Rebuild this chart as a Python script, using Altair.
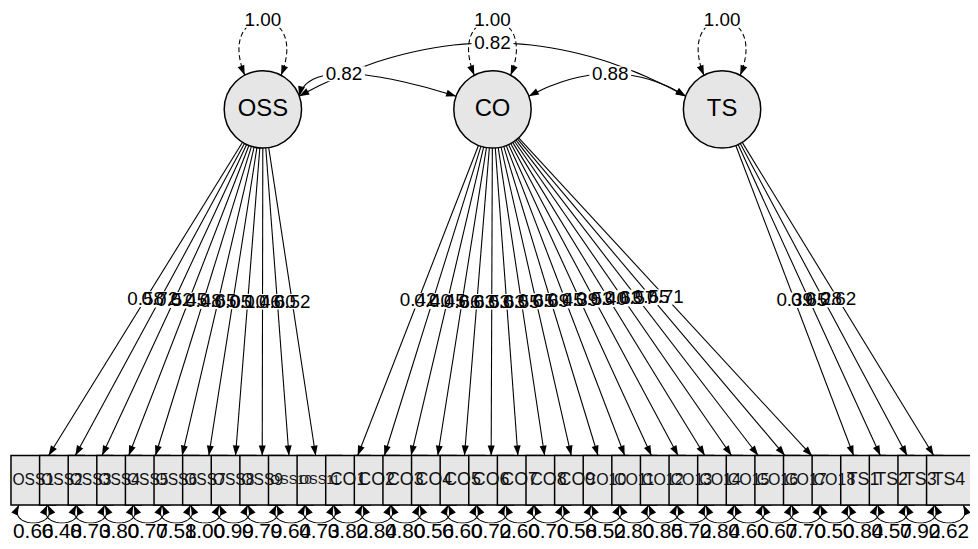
import math
import altair as alt
import pandas as pd

# ---------------- data ----------------
latent_names = ["OSS", "CO", "TS"]
latent_variances = [1.00, 1.00, 1.00]

oss_items = ["OSS1", "OSS2", "OSS3", "OSS4", "OSS5", "OSS6", "OSS7", "OSS8", "OSS9", "OSS10", "OSS11"]
co_items = ["CO1", "CO2", "CO3", "CO4", "CO5", "CO6", "CO7", "CO8", "CO9", "CO10",
            "CO11", "CO12", "CO13", "CO14", "CO15", "CO16", "CO17", "CO18"]
ts_items = ["TS1", "TS2", "TS3", "TS4"]

oss_loadings = [0.58, 0.72, 0.52, 0.45, 0.48, 0.65, 0.05, 0.10, 0.46, 0.60, 0.52]
co_loadings = [0.42, 0.40, 0.45, 0.66, 0.63, 0.53, 0.63, 0.55, 0.65, 0.69,
               0.45, 0.39, 0.53, 0.40, 0.63, 0.57, 0.55, 0.71]
ts_loadings = [0.39, 0.65, 0.28, 0.62]

oss_residuals = [0.66, 0.48, 0.73, 0.80, 0.77, 0.58, 1.00, 0.99, 0.79, 0.64, 0.73]
co_residuals = [0.82, 0.84, 0.80, 0.56, 0.60, 0.72, 0.60, 0.70, 0.58, 0.52,
                0.80, 0.85, 0.72, 0.84, 0.60, 0.67, 0.70, 0.50]
ts_residuals = [0.84, 0.57, 0.92, 0.62]

cov_from = ["OSS", "CO", "OSS"]
cov_to = ["CO", "TS", "TS"]
cov_values = [0.82, 0.88, 0.82]

# ---------------- layout (page pixel space) ----------------
X_MIN, X_MAX, Y_MIN, Y_MAX = 8, 978, 8, 549
LAT_X0, LAT_DX, LAT_Y, LAT_R = 265.0, 231.5, 108.0, 39.0
BOX_X0, BOX_DX, BOX_Y, BOX_W, BOX_H = 33.5, 28.85, 482.0, 45.0, 50.0
COV_ANGLE = 20.0
COV_BEND = [22.7, 22.7, 53.7]
COV_SKEW = [-68.0, 6.0, 0.0]
VAR_ANGLE = 28.0
VAR_CTRL = (30.0, 74.0)
RES_DEPTH = 24.0
RES_SPREAD = 12.0
FILL = "#e6e6e6"
FONT = "Liberation Sans"
FS_EDGE, FS_RES, FS_LAT = 19, 21, 24
BOX_FIT = 42.0
ARROW = "M0,0L-0.6,1.7L0.6,1.7Z"


def fmt(v):
    return f"{v:.2f}"


def ang(dx, dy):
    return math.degrees(math.atan2(dx, -dy)) % 360


def bez2(a, c, b, n=40):
    pts = []
    for j in range(n + 1):
        t = j / n
        u = 1 - t
        pts.append((u * u * a[0] + 2 * u * t * c[0] + t * t * b[0],
                    u * u * a[1] + 2 * u * t * c[1] + t * t * b[1]))
    return pts


def bez3(p0, p1, p2, p3, n=40):
    pts = []
    for j in range(n + 1):
        t = j / n
        u = 1 - t
        pts.append((u ** 3 * p0[0] + 3 * u * u * t * p1[0] + 3 * u * t * t * p2[0] + t ** 3 * p3[0],
                    u ** 3 * p0[1] + 3 * u * u * t * p1[1] + 3 * u * t * t * p2[1] + t ** 3 * p3[1]))
    return pts


def arial_em(s):
    w = {"O": 0.778, "S": 0.667, "C": 0.722, "T": 0.611}
    return sum(w.get(ch, 0.556) for ch in s)


items = oss_items + co_items + ts_items
item_lat = ["OSS"] * len(oss_items) + ["CO"] * len(co_items) + ["TS"] * len(ts_items)
loads = oss_loadings + co_loadings + ts_loadings
resids = oss_residuals + co_residuals + ts_residuals

lat_xy = {n: (LAT_X0 + LAT_DX * j, LAT_Y) for j, n in enumerate(latent_names)}
box_x = [BOX_X0 + BOX_DX * i for i in range(len(items))]

solid, dashed, arrows, labels = [], [], [], []


def add_path(store, gid, pts):
    for k, (x, y) in enumerate(pts):
        store.append({"gid": gid, "k": k, "x": x, "y": y})


def add_label(x, y, text, fs):
    w = arial_em(text) * fs
    h = fs * 0.8
    labels.append({"x": x, "y": y, "text": text, "fs": fs,
                   "x1": x - w / 2, "x2": x + w / 2, "y1": y - h / 2, "y2": y + h / 2})


# loadings
for i, (lat, lo) in enumerate(zip(item_lat, loads)):
    lx, ly = lat_xy[lat]
    bx, by = box_x[i], BOX_Y
    dx, dy = bx - lx, by - ly
    L = math.hypot(dx, dy)
    sx, sy = lx + dx / L * LAT_R, ly + dy / L * LAT_R
    s = min((BOX_W / 2) / abs(dx) if dx else 1e9, (BOX_H / 2) / abs(dy))
    ex, ey = bx - dx * s, by - dy * s
    add_path(solid, f"L{i}", [(sx, sy), (ex, ey)])
    arrows.append({"x": ex, "y": ey, "ang": ang(dx, dy)})
    add_label((sx + ex) / 2, (sy + ey) / 2, fmt(lo), FS_EDGE)

# covariances
a0 = math.radians(COV_ANGLE)
for j, (f, t, v) in enumerate(zip(cov_from, cov_to, cov_values)):
    ax, ay = lat_xy[f]
    bx, by = lat_xy[t]
    A = (ax + LAT_R * math.cos(a0), ay - LAT_R * math.sin(a0))
    B = (bx - LAT_R * math.cos(a0), by - LAT_R * math.sin(a0))
    C = ((A[0] + B[0]) / 2 + COV_SKEW[j], A[1] - 2 * COV_BEND[j])
    pts = bez2(A, C, B)
    add_path(solid, f"C{j}", pts)
    arrows.append({"x": A[0], "y": A[1], "ang": ang(A[0] - C[0], A[1] - C[1])})
    arrows.append({"x": B[0], "y": B[1], "ang": ang(B[0] - C[0], B[1] - C[1])})
    mx, my = pts[len(pts) // 2]
    add_label(mx, my, fmt(v), FS_EDGE)

# latent variances (dashed loops)
va = math.radians(VAR_ANGLE)
for j, (n, v) in enumerate(zip(latent_names, latent_variances)):
    cx, cy = lat_xy[n]
    P0 = (cx - LAT_R * math.sin(va), cy - LAT_R * math.cos(va))
    P3 = (cx + LAT_R * math.sin(va), cy - LAT_R * math.cos(va))
    P1 = (P0[0] - VAR_CTRL[0], P0[1] - VAR_CTRL[1])
    P2 = (P3[0] + VAR_CTRL[0], P3[1] - VAR_CTRL[1])
    add_path(dashed, f"V{j}", bez3(P0, P1, P2, P3))
    arrows.append({"x": P0[0], "y": P0[1], "ang": ang(P0[0] - P1[0], P0[1] - P1[1])})
    arrows.append({"x": P3[0], "y": P3[1], "ang": ang(P3[0] - P2[0], P3[1] - P2[1])})
    add_label(cx, P0[1] - 0.75 * VAR_CTRL[1], fmt(v), FS_EDGE)

# residuals
bottom = BOX_Y + BOX_H / 2
for i, r in enumerate(resids):
    c = box_x[i]
    P0 = (c - 14.5, bottom)
    P3 = (c + 14.5, bottom)
    P1 = (P0[0] - RES_SPREAD, bottom + RES_DEPTH)
    P2 = (P3[0] + RES_SPREAD, bottom + RES_DEPTH)
    add_path(solid, f"R{i}", bez3(P0, P1, P2, P3))
    arrows.append({"x": P0[0], "y": P0[1], "ang": ang(P0[0] - P1[0], P0[1] - P1[1])})
    arrows.append({"x": P3[0], "y": P3[1], "ang": ang(P3[0] - P2[0], P3[1] - P2[1])})
    add_label(c, 534.0, fmt(r), FS_RES)

boxes = pd.DataFrame({
    "cx": box_x,
    "x1": [c - BOX_W / 2 for c in box_x],
    "x2": [c + BOX_W / 2 for c in box_x],
    "y1": [BOX_Y - BOX_H / 2] * len(items),
    "y2": [BOX_Y + BOX_H / 2] * len(items),
    "cy": [BOX_Y] * len(items),
    "text": items,
    "fs": [min(18.0, BOX_FIT / arial_em(s)) for s in items],
})
circles = pd.DataFrame({"x": [lat_xy[n][0] for n in latent_names],
                        "y": [lat_xy[n][1] for n in latent_names],
                        "text": latent_names})

solid_df = pd.DataFrame(solid)
dashed_df = pd.DataFrame(dashed)
arrows_df = pd.DataFrame(arrows)
labels_df = pd.DataFrame(labels)

xs = alt.Scale(domain=[X_MIN, X_MAX], nice=False, zero=False)
ys = alt.Scale(domain=[Y_MIN, Y_MAX], nice=False, zero=False, reverse=True)


def X(f):
    return alt.X(f"{f}:Q", scale=xs, axis=None)


def Y(f):
    return alt.Y(f"{f}:Q", scale=ys, axis=None)


solid_layer = alt.Chart(solid_df).mark_line(color="black", strokeWidth=1.1).encode(
    x=X("x"), y=Y("y"), detail="gid:N", order="k:Q")
dashed_layer = alt.Chart(dashed_df).mark_line(color="black", strokeWidth=1.1, strokeDash=[5, 3]).encode(
    x=X("x"), y=Y("y"), detail="gid:N", order="k:Q")
box_layer = alt.Chart(boxes).mark_rect(fill=FILL, stroke="black", strokeWidth=1.5).encode(
    x=X("x1"), x2="x2:Q", y=Y("y1"), y2="y2:Q")
circle_layer = alt.Chart(circles).mark_point(
    shape="circle", filled=True, fill=FILL, stroke="black", strokeWidth=1.5, opacity=1,
    size=(2 * LAT_R) ** 2).encode(x=X("x"), y=Y("y"))
arrow_layer = alt.Chart(arrows_df).mark_point(
    shape=ARROW, filled=True, color="black", opacity=1, size=140, strokeWidth=0).encode(
    x=X("x"), y=Y("y"), angle=alt.Angle("ang:Q", scale=None))
box_text = alt.Chart(boxes).mark_text(font=FONT, color="#111111", align="center", baseline="middle").encode(
    x=X("cx"), y=Y("cy"), text="text:N", size=alt.Size("fs:Q", scale=None))
lat_text = alt.Chart(circles).mark_text(font=FONT, color="black", fontSize=FS_LAT,
                                        align="center", baseline="middle").encode(
    x=X("x"), y=Y("y"), text="text:N")
label_bg = alt.Chart(labels_df).mark_rect(fill="white").encode(
    x=X("x1"), x2="x2:Q", y=Y("y1"), y2="y2:Q")
label_text = alt.Chart(labels_df).mark_text(font=FONT, color="black", align="center", baseline="middle").encode(
    x=X("x"), y=Y("y"), text="text:N", size=alt.Size("fs:Q", scale=None))

chart = alt.layer(
    solid_layer, dashed_layer, box_layer, circle_layer, arrow_layer,
    box_text, lat_text, label_bg, label_text
).properties(width=X_MAX - X_MIN, height=Y_MAX - Y_MIN, padding=0, autosize="none",
             background="white").configure_view(stroke=None)

chart.save("out.html", embed_options={"renderer": "svg", "actions": False})
